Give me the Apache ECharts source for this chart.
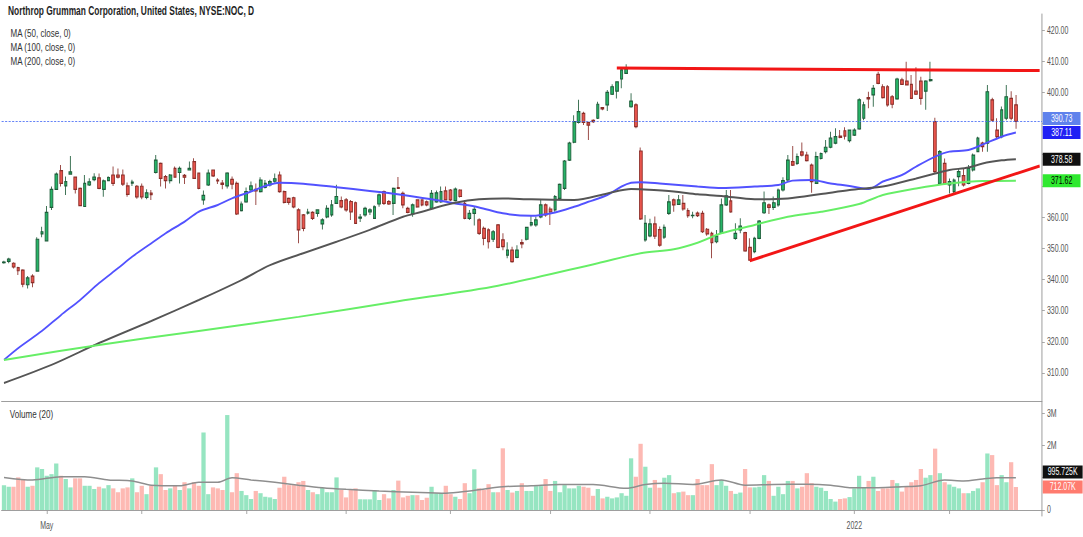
<!DOCTYPE html>
<html><head><meta charset="utf-8">
<script src="https://cdn.jsdelivr.net/npm/echarts@6/dist/echarts.min.js"></script>
<style>
html,body{margin:0;padding:0;overflow:hidden;background:#fff;width:1083px;height:537px}
#wrap{width:1547px;height:537px;transform:scaleX(0.7);transform-origin:0 0}
#chart{width:1547px;height:537px}
</style></head><body>
<div id="wrap"><div id="chart"></div></div>
<script>
// ---------------- data ----------------
const titleText = 'Northrop Grumman Corporation, United States, NYSE:NOC, D';
const maLabels = ['MA (50, close, 0)', 'MA (100, close, 0)', 'MA (200, close, 0)'];
const volumeLabel = 'Volume (20)';

const open = [345.4,345.8,345.2,343.8,343.0,338.3,341.1,342.7,354.6,352.4,
363.1,368.9,374.9,370.0,373.8,372.8,369.2,363.4,370.3,372.0,
372.6,368.9,371.7,373.5,373.5,373.5,370.0,370.9,369.9,369.9,
366.3,367.7,374.3,377.2,373.0,371.7,375.6,374.3,373.4,375.1,
377.8,374.1,365.5,370.3,375.1,371.9,370.9,370.0,372.1,370.8,
362.1,364.9,368.7,368.9,368.2,369.5,370.3,371.5,373.5,368.2,
366.0,366.2,362.3,360.7,361.3,361.5,361.2,357.8,360.1,360.7,
364.4,365.3,365.5,365.0,364.6,359.7,360.7,361.7,359.6,364.2,
368.2,365.0,364.4,369.5,367.6,362.8,361.0,365.5,365.5,364.9,
362.8,364.9,364.9,368.4,368.7,365.3,368.7,364.4,359.6,361.2,
359.1,356.4,355.9,352.9,357.5,352.7,347.8,349.4,347.1,351.8,
352.9,357.5,357.5,360.1,363.9,362.6,362.3,366.0,369.2,378.3,
384.0,390.4,393.3,390.3,391.0,391.7,395.1,396.0,399.4,400.4,
404.3,406.1,395.4,396.0,381.2,352.7,354.0,357.8,356.0,353.6,
361.2,365.5,364.1,364.4,362.1,360.5,361.3,361.2,356.1,354.8,
352.1,354.8,363.9,365.2,353.2,355.9,355.0,350.3,348.9,353.2,
361.4,363.9,363.1,363.9,368.7,371.9,377.8,377.2,380.9,379.9,
376.7,370.8,378.8,381.0,382.4,383.7,386.0,387.7,384.5,386.3,
388.3,391.7,398.3,399.2,405.8,401.8,401.8,398.6,397.9,404.0,
403.6,402.6,400.4,403.6,400.4,403.8,390.6,370.8,377.2,370.3,
368.2,373.0,373.3,370.8,375.1,381.0,383.7,383.7,397.6,387.9,
385.8,391.7,398.1,396.0];

const close = [345.6,346.5,344.0,342.8,338.5,340.5,339.0,352.9,355.3,361.5,
368.9,373.8,370.8,371.4,374.5,368.9,363.7,370.8,371.3,372.8,
369.2,371.6,372.7,370.8,372.8,370.6,367.3,371.2,366.5,366.5,
367.8,367.2,378.3,372.4,371.7,373.5,372.8,375.6,372.8,375.6,
372.4,369.2,367.0,374.1,373.2,371.6,370.5,374.1,370.6,361.0,
364.2,368.2,370.0,368.4,371.9,370.8,371.4,372.3,368.2,364.7,
364.7,363.3,355.9,356.4,361.6,359.6,362.3,359.1,362.8,363.9,
366.6,363.3,362.3,361.7,358.0,360.0,362.8,362.3,363.3,367.1,
364.4,364.2,369.2,369.2,363.9,361.5,363.9,363.3,363.9,363.9,
367.6,367.8,368.2,365.5,365.5,369.0,366.6,359.6,361.2,362.5,
354.8,353.2,352.1,355.3,350.3,350.5,349.4,345.7,349.4,351.4,
356.7,358.2,359.1,363.9,360.7,361.7,366.6,370.5,378.0,383.7,
390.6,393.8,390.4,389.5,390.6,396.2,394.7,400.0,401.8,403.4,
407.2,407.5,397.2,389.0,359.4,358.0,357.8,353.9,351.0,356.7,
364.9,363.9,365.5,362.6,360.5,360.6,360.5,355.3,354.6,351.8,
353.9,363.9,366.8,361.7,354.8,357.1,349.2,346.2,353.2,358.7,
364.6,363.1,364.6,368.7,371.7,378.3,376.7,379.4,379.9,378.1,
371.4,379.4,380.4,382.4,385.3,385.8,385.6,386.0,387.9,387.9,
397.6,396.0,397.9,401.3,402.9,398.3,396.0,396.2,404.3,402.6,
402.4,398.1,399.4,398.1,403.6,404.1,374.6,381.0,370.8,371.4,
371.9,374.6,370.3,375.6,379.9,385.3,382.6,400.2,391.1,385.8,
394.4,398.6,391.7,390.73];

const low = [345.0,345.2,343.5,341.4,337.5,337.1,337.5,342.5,353.5,352.4,
362.3,368.7,369.8,367.1,373.8,367.6,363.5,363.4,370.0,371.5,
368.9,366.5,371.6,370.0,372.4,370.0,366.5,370.0,365.9,365.7,
365.7,365.5,374.0,369.8,369.2,370.8,372.7,370.8,370.6,375.0,
372.3,368.9,364.0,370.0,372.9,370.6,368.9,369.2,368.9,360.7,
361.8,364.6,368.2,363.9,367.9,369.2,369.8,371.0,367.8,364.4,
364.0,362.8,351.6,355.5,360.8,359.1,360.1,356.0,359.6,360.1,
364.4,362.8,361.7,359.1,357.8,358.4,360.1,360.7,359.6,363.3,
363.9,363.9,360.7,369.0,362.8,361.2,360.1,363.0,363.5,363.5,
362.3,364.6,364.6,365.3,365.2,365.0,366.3,359.3,359.1,357.3,
354.3,351.0,349.9,352.0,350.0,349.4,346.8,345.4,346.8,350.0,
352.5,357.0,356.9,359.6,360.1,357.5,361.7,365.5,368.7,378.0,
383.7,390.0,389.5,384.7,390.2,391.5,394.3,394.0,399.2,398.0,
401.3,406.0,395.1,388.5,359.1,352.1,353.5,353.0,350.5,353.0,
360.7,361.7,363.9,362.0,359.8,359.6,360.0,354.9,354.0,346.8,
351.6,354.6,363.6,361.4,352.7,354.8,348.9,346.0,348.4,352.9,
361.0,361.0,362.3,363.3,368.2,371.4,376.4,376.7,379.4,377.8,
367.8,370.6,378.5,380.4,382.1,383.4,385.3,384.9,383.9,386.0,
388.0,391.1,394.9,395.4,402.6,398.0,395.4,394.9,397.6,402.4,
402.2,397.9,399.2,396.0,394.4,403.4,374.0,370.5,370.3,367.6,
367.1,369.9,369.8,370.5,374.6,380.8,381.0,381.0,390.6,385.3,
385.3,391.1,391.1,388.3];

const high = [346.0,347.0,345.5,344.1,343.3,341.1,341.7,353.5,356.9,363.6,
369.8,374.3,376.7,373.0,379.6,373.0,369.5,373.5,372.5,374.1,
374.0,372.1,373.1,376.2,375.6,375.3,371.1,372.0,370.3,370.8,
368.9,368.7,379.9,377.5,373.5,373.8,376.2,376.2,373.8,377.8,
378.9,374.3,368.5,375.3,375.3,372.5,371.9,374.4,373.0,371.4,
365.0,369.5,371.4,370.8,372.8,371.9,372.0,374.0,374.6,368.5,
366.3,366.5,362.8,361.0,362.7,361.9,362.5,359.6,363.8,365.5,
370.4,366.6,366.1,365.5,365.0,361.0,363.3,362.8,363.8,367.6,
368.5,365.5,369.5,372.9,368.2,363.3,364.4,365.7,365.7,365.3,
368.7,368.5,369.8,369.8,369.0,369.5,368.9,365.5,362.3,363.3,
359.6,357.0,356.4,355.9,357.8,354.8,351.9,350.5,351.0,352.9,
356.9,360.6,360.1,365.5,364.4,363.3,367.1,370.8,378.3,384.2,
392.7,397.6,393.8,390.6,391.4,397.0,395.3,400.8,402.6,403.6,
407.7,409.0,399.7,396.5,382.3,360.7,359.5,360.2,357.0,357.6,
367.1,366.0,367.1,367.1,362.8,361.7,361.8,362.0,356.5,355.3,
355.9,366.0,368.7,368.7,358.0,359.6,355.3,353.2,353.7,359.1,
368.2,364.4,366.6,369.2,372.8,379.9,382.8,380.4,383.9,381.0,
377.2,381.0,380.7,384.7,387.4,388.5,387.9,388.8,388.1,388.5,
398.1,397.0,400.2,402.4,406.6,402.6,402.4,399.2,404.7,404.7,
409.8,405.6,408.1,405.0,403.9,409.8,391.9,381.5,378.8,372.4,
372.4,375.6,375.6,376.7,380.4,385.8,384.2,402.4,398.3,391.7,
395.5,402.4,400.4,399.2];

// volume in millions of shares
const volumeM = [0.77,0.72,0.72,1.01,0.93,0.72,0.75,1.32,1.27,1.06,
1.11,1.44,1.06,0.96,0.70,0.98,0.98,0.75,0.75,0.65,
0.72,0.67,0.77,0.67,0.55,0.67,0.70,0.98,0.55,0.75,
0.49,0.75,1.32,1.11,0.62,0.67,0.77,0.62,0.86,0.67,
0.86,0.75,2.40,0.49,0.70,0.67,0.62,2.94,0.55,1.14,
0.59,0.46,0.34,0.59,0.52,0.41,0.39,0.34,0.69,1.03,
0.77,0.77,0.86,0.90,0.62,0.55,0.49,0.69,0.55,0.55,
1.01,0.62,0.39,0.62,0.67,0.33,0.33,0.33,0.62,0.31,
0.49,0.36,0.62,0.91,0.39,0.44,0.46,0.46,0.31,0.38,
0.72,0.52,0.52,0.75,0.49,0.41,0.34,0.83,0.52,1.26,
0.67,0.62,0.80,0.55,0.55,1.91,0.62,0.54,0.59,0.83,
0.59,0.59,0.74,0.74,0.96,0.59,0.90,0.55,0.77,0.67,
0.67,0.75,0.72,0.69,0.44,0.65,0.36,0.41,0.36,0.39,
0.52,0.44,1.60,1.03,2.05,1.34,0.69,0.93,0.69,1.00,
1.08,0.52,0.55,0.57,0.46,0.46,0.96,0.77,0.77,1.42,
0.77,0.93,0.75,0.59,0.50,0.54,1.27,0.70,0.70,0.72,
1.08,0.90,0.44,0.72,0.49,0.90,0.90,0.67,0.72,1.14,
0.83,0.72,0.69,0.59,0.34,0.26,0.34,0.36,0.40,0.67,
1.06,0.69,0.90,1.03,0.59,0.67,0.67,0.93,0.83,0.57,
0.72,0.86,0.93,1.27,1.00,1.08,1.90,1.14,0.86,0.79,
0.72,0.67,0.52,0.52,0.59,0.67,0.86,1.75,1.70,0.77,
1.08,0.86,1.48,0.71207];

// moving averages: [bar index, value]
const ma50 = [[0,314.2],[3,318.0],[8,323.5],[12,328.6],[16,333.4],[20,338.8],[24,343.6],[27,347.3],[31,351.6],[34,354.8],[38,358.5],[41,361.7],[45,363.9],[48,366.0],[52,368.2],[55,370.0],[58,371.0],[63,370.7],[70,369.6],[77,368.4],[84,367.1],[90,365.7],[95,364.4],[100,363.1],[105,361.2],[111,360.4],[116,361.5],[120,363.3],[123,364.9],[127,367.1],[130,369.8],[132,371.0],[134,371.2],[138,370.8],[142,370.3],[146,369.8],[151,369.3],[158,369.8],[163,370.3],[166,371.7],[170,371.9],[174,370.8],[178,370.0],[182,369.0],[185,371.4],[189,373.5],[192,376.2],[196,379.4],[199,381.0],[203,381.5],[206,383.3],[210,385.8],[213,387.11]];
const ma100 = [[0,306.8],[10,312.6],[20,319.6],[31,326.7],[41,333.4],[50,339.8],[56,344.6],[63,348.4],[70,352.1],[77,355.9],[84,360.1],[88,361.7],[91,363.1],[95,364.6],[100,365.7],[105,366.0],[111,365.7],[120,365.5],[127,367.6],[132,369.0],[134,368.9],[141,368.2],[146,367.3],[151,366.8],[158,365.7],[165,366.0],[172,367.4],[178,368.7],[185,369.8],[192,372.4],[196,374.0],[199,375.1],[203,375.9],[206,377.2],[210,378.2],[213,378.58]];
const ma200 = [[0,314.2],[20,319.0],[41,323.5],[62,328.0],[83,333.0],[104,338.0],[125,345.2],[134,348.4],[141,349.7],[146,351.8],[151,354.8],[158,357.5],[165,360.1],[172,361.7],[180,364.2],[185,367.1],[192,369.2],[199,370.8],[206,371.6],[213,371.62]];
const volMA20 = [[0,1.01],[6,0.93],[12,1.03],[17,1.03],[22,0.93],[27,0.90],[31,0.77],[37,0.75],[41,0.86],[45,0.86],[48,1.00],[52,0.93],[57,0.86],[62,0.77],[67,0.69],[72,0.64],[79,0.59],[86,0.55],[93,0.52],[98,0.59],[105,0.72],[111,0.75],[117,0.79],[124,0.79],[131,0.67],[135,0.79],[139,0.83],[145,0.79],[151,0.93],[156,0.77],[162,0.79],[169,0.80],[174,0.77],[178,0.69],[184,0.69],[189,0.72],[193,0.75],[198,0.93],[202,0.90],[206,0.96],[209,1.00],[213,0.995725]];

// hand-drawn trend lines: [bar index, price]
const resistanceLine = [[129,407.8],[218,407.0]];
const supportLine = [[157,346.0],[218,376.4]];

// axis ticks
const monthTickIdx = [9,29,51,72,94,115,136,157,179,199];
const monthTickText = ['May','','','','','','','','2022',''];
const priceTickValues = [310,320,330,340,350,360,370,380,390,400,410,420];
const priceLabelValues = [310,320,330,340,350,360,400,410,420]; // others are under the badges
const volumeTickValues = [0,1,2,3];
const volumeLabelValues = [0,2,3];

// ---------------- chart ----------------
const CW = 1547;            // drawing width; the page squeezes it to 1083 like the reference
const GRID_LEFT = 2.3, GRID_RIGHT = 58.4;
const SLOTS = 219;
const slots = Array.from({length: SLOTS}, (_, i) => String(i));
const FONT = '"Liberation Sans", Arial, sans-serif';

const UP = '#26b467', UP_BORDER = '#1f5c3a', DOWN = '#e8544c', DOWN_BORDER = '#8a2e29';
const VOL_UP = '#96e5c1', VOL_DOWN = '#fdb9b3';
const LAST_LINE = '#4a6ef5';

const candles = open.map((o, i) => [o, close[i], low[i], high[i]]);
const volumes = volumeM.map((v, i) => ({
  value: v,
  itemStyle: {color: close[i] >= open[i] ? VOL_UP : VOL_DOWN}
}));

const chart = echarts.init(document.getElementById('chart'), null, {renderer: 'svg'});

const titleBase = {padding: 0, textStyle: {fontFamily: FONT, fontSize: 11.5, fontWeight: 'normal', color: '#333'}};

const option = {
  animation: false,
  backgroundColor: '#ffffff',
  textStyle: {fontFamily: FONT},
  title: [
    {text: titleText, left: 11.5, top: 4.5, padding: 0, textStyle: {fontFamily: FONT, fontSize: 12, fontWeight: 'bold', color: '#1e1e1e'}},
    Object.assign({text: maLabels[0], left: 15, top: 27}, titleBase),
    Object.assign({text: maLabels[1], left: 15, top: 41}, titleBase),
    Object.assign({text: maLabels[2], left: 15, top: 55}, titleBase),
    Object.assign({text: volumeLabel, left: 14, top: 408}, titleBase)
  ],
  grid: [
    {left: GRID_LEFT, right: GRID_RIGHT, top: 14, height: 387},
    {left: GRID_LEFT, right: GRID_RIGHT, top: 402, height: 114}
  ],
  xAxis: [
    {type: 'category', gridIndex: 0, data: slots, boundaryGap: true,
     axisLine: {show: true, lineStyle: {color: '#8c8c8c', width: 1}},
     axisTick: {show: false}, axisLabel: {show: false}, splitLine: {show: false}},
    {type: 'category', gridIndex: 1, data: slots, boundaryGap: true,
     axisLine: {show: true, lineStyle: {color: '#8c8c8c', width: 1}},
     axisTick: {show: true, alignWithLabel: true, length: 4, lineStyle: {color: '#9a9a9a'},
                interval: (i) => monthTickIdx.includes(i)},
     axisLabel: {show: true, color: '#555', fontSize: 10, margin: 5, fontFamily: FONT,
                 interval: (i) => { const k = monthTickIdx.indexOf(i); return k >= 0 && monthTickText[k] !== ''; },
                 formatter: (v) => { const k = monthTickIdx.indexOf(Number(v)); return k >= 0 ? monthTickText[k] : ''; }},
     splitLine: {show: false}}
  ],
  yAxis: [
    {type: 'value', gridIndex: 0, position: 'right', min: 301.02, max: 425.14, scale: true,
     axisLine: {show: true, lineStyle: {color: '#8c8c8c'}},
     axisTick: {show: true, inside: false, length: 4, lineStyle: {color: '#9a9a9a'}, customValues: priceTickValues},
     axisLabel: {show: true, color: '#555', fontSize: 10, margin: 7, fontFamily: FONT,
                 customValues: priceLabelValues, formatter: (v) => Number(v).toFixed(2)},
     splitLine: {show: false}},
    {type: 'value', gridIndex: 1, position: 'right', min: -0.1858, max: 3.344,
     axisLine: {show: true, lineStyle: {color: '#8c8c8c'}},
     axisTick: {show: true, inside: false, length: 4, lineStyle: {color: '#9a9a9a'}, customValues: volumeTickValues},
     axisLabel: {show: true, color: '#555', fontSize: 10, margin: 7, fontFamily: FONT,
                 customValues: volumeLabelValues, formatter: (v) => (Number(v) === 0 ? '0' : Number(v) + 'M')},
     splitLine: {show: false}}
  ],
  series: [
    {name: 'NOC', type: 'candlestick', xAxisIndex: 0, yAxisIndex: 0, data: candles, z: 2,
     barWidth: 4.3,
     itemStyle: {color: UP, color0: DOWN, borderColor: UP_BORDER, borderColor0: DOWN_BORDER, borderWidth: 1.2}},
    {name: 'Last price', type: 'line', xAxisIndex: 0, yAxisIndex: 0, data: [], z: 2,
     showSymbol: false, symbol: 'none', color: LAST_LINE, lineStyle: {color: LAST_LINE},
     markLine: {silent: true, symbol: ['none', 'none'], label: {show: false}, animation: false,
       lineStyle: {color: LAST_LINE, width: 1, type: [3, 2], opacity: 1},
       data: [{yAxis: close[close.length - 1], lineStyle: {color: LAST_LINE, width: 1, type: [3, 2]}}]}},
    {name: 'MA50', type: 'line', xAxisIndex: 0, yAxisIndex: 0, data: ma50, z: 3, smooth: 0.3,
     showSymbol: false, symbol: 'none', lineStyle: {color: '#5252ff', width: 2}},
    {name: 'MA100', type: 'line', xAxisIndex: 0, yAxisIndex: 0, data: ma100, z: 3, smooth: 0.3,
     showSymbol: false, symbol: 'none', lineStyle: {color: '#555555', width: 2}},
    {name: 'MA200', type: 'line', xAxisIndex: 0, yAxisIndex: 0, data: ma200, z: 4, smooth: 0.3,
     showSymbol: false, symbol: 'none', lineStyle: {color: '#66ee66', width: 2},
     markLine: {silent: true, symbol: ['none', 'none'], label: {show: false}, animation: false,
       lineStyle: {color: '#f21616', width: 3, type: 'solid'},
       data: [
         [{coord: resistanceLine[0]}, {coord: resistanceLine[1]}],
         [{coord: supportLine[0]}, {coord: supportLine[1]}]
       ]}},
    {name: 'Volume', type: 'bar', xAxisIndex: 1, yAxisIndex: 1, data: volumes, z: 2,
     barCategoryGap: '10%'},
    {name: 'Volume MA', type: 'line', xAxisIndex: 1, yAxisIndex: 1, data: volMA20, z: 3, smooth: 0.3,
     showSymbol: false, symbol: 'none', lineStyle: {color: '#8e8e8e', width: 1.5}}
  ]
};
chart.setOption(option);

// ---------------- value badges on the right scale ----------------
function spread(list, gap) {
  list.sort((a, b) => a.y - b.y);
  for (let i = list.length - 2; i >= 0; i--) {
    if (list[i].y > list[i + 1].y - gap) list[i].y = list[i + 1].y - gap;
  }
  return list;
}
const lastOf = (arr) => arr[arr.length - 1][1];
const fmtK = (m) => parseFloat((m * 1000).toFixed(3)) + 'K';

const priceBadges = spread([
  {text: close[close.length - 1].toFixed(2), v: close[close.length - 1], bg: '#5f82ec', fg: '#ffffff'},
  {text: lastOf(ma50).toFixed(2), v: lastOf(ma50), bg: '#2020f4', fg: '#ffffff'},
  {text: lastOf(ma100).toFixed(2), v: lastOf(ma100), bg: '#101010', fg: '#ffffff'},
  {text: lastOf(ma200).toFixed(2), v: lastOf(ma200), bg: '#2fe92f', fg: '#000000'}
].map(b => Object.assign(b, {y: chart.convertToPixel({yAxisIndex: 0}, b.v), w: 54})), 14);

const volBadges = spread([
  {text: fmtK(lastOf(volMA20)), v: lastOf(volMA20), bg: '#101010', fg: '#ffffff'},
  {text: fmtK(volumeM[volumeM.length - 1]), v: volumeM[volumeM.length - 1], bg: '#ff7b6f', fg: '#ffffff'}
].map(b => Object.assign(b, {y: chart.convertToPixel({yAxisIndex: 1}, b.v), w: 57})), 15);

const bx = CW - GRID_RIGHT + 1;
const H = 13;
const elements = [];
priceBadges.concat(volBadges).forEach((b) => {
  elements.push({type: 'rect', z: 100, shape: {x: bx, y: b.y - H / 2, width: b.w, height: H}, style: {fill: b.bg}});
  elements.push({type: 'text', z: 101, x: bx + b.w / 2, y: b.y,
    style: {text: b.text, fill: b.fg, fontSize: 10, fontFamily: FONT, align: 'center', verticalAlign: 'middle',
            textAlign: 'center', textVerticalAlign: 'middle'}});
});
chart.setOption({graphic: {elements: elements}});
</script>
</body></html>
